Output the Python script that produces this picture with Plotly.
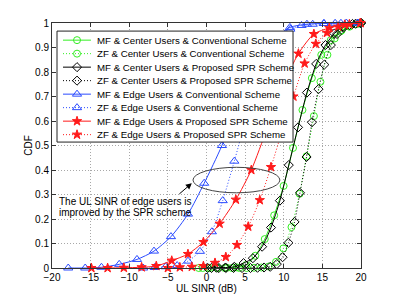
import plotly.graph_objects as go

# ---------------- data ----------------
series_names = [
    "MF & Center Users & Conventional Scheme",
    "ZF & Center Users & Conventional Scheme",
    "MF & Center Users & Proposed SPR Scheme",
    "ZF & Center Users & Proposed SPR Scheme",
    "MF & Edge Users & Conventional Scheme",
    "ZF & Edge Users & Conventional Scheme",
    "MF & Edge Users & Proposed SPR Scheme",
    "ZF & Edge Users & Proposed SPR Scheme",
]

mf_center_conv_x = [-1.0, 0.22, 1.44, 2.66, 3.88, 5.1, 6.32, 7.54, 8.76, 9.98, 11.2, 12.42, 13.64, 14.86, 16.08, 17.3, 18.52, 19.74]
mf_center_conv_y = [0.0, 0.0, 0.0, 0.001, 0.003, 0.012, 0.05, 0.118, 0.215, 0.335, 0.49, 0.645, 0.775, 0.87, 0.93, 0.965, 0.985, 0.997]

zf_center_conv_x = [-0.5, 0.45, 1.4, 2.35, 3.3, 4.25, 5.2, 6.15, 7.1, 8.05, 9.0, 9.95, 11.0, 12.05, 12.95, 13.9, 14.75, 15.65, 16.6, 17.5, 18.4, 19.3, 20.0]
zf_center_conv_y = [0.0, 0.0, 0.0, 0.0, 0.0, 0.0, 0.0, 0.001, 0.002, 0.006, 0.025, 0.08, 0.167, 0.303, 0.456, 0.62, 0.76, 0.87, 0.937, 0.97, 0.987, 0.995, 1.0]

mf_center_spr_x = [0.15, 1.3, 2.45, 3.6, 4.8, 6.0, 7.2, 8.35, 9.5, 10.65, 11.85, 13.0, 14.2, 15.4, 16.55, 17.7, 18.9, 20.0]
mf_center_spr_y = [0.0, 0.001, 0.002, 0.005, 0.02, 0.04, 0.087, 0.165, 0.275, 0.42, 0.574, 0.716, 0.833, 0.91, 0.957, 0.985, 0.996, 1.0]

zf_center_spr_x = [0.65, 1.6, 2.5, 3.5, 4.6, 5.7, 6.6, 7.45, 8.25, 9.1, 9.85, 10.6, 11.4, 12.1, 12.95, 13.65, 14.5, 15.25, 16.1, 16.9, 17.7, 18.5, 19.3, 20.0]
zf_center_spr_y = [0.0, 0.0, 0.0, 0.0, 0.0, 0.0, 0.001, 0.002, 0.005, 0.016, 0.044, 0.103, 0.188, 0.307, 0.453, 0.595, 0.73, 0.83, 0.91, 0.955, 0.98, 0.992, 0.997, 1.0]

mf_edge_conv_x = [-17.9, -15.7, -13.6, -11.3, -9.0, -6.8, -4.6, -2.4, -0.3, 2.0, 4.2, 6.4, 8.6, 10.8, 13.0, 15.2, 17.4, 19.6]
mf_edge_conv_y = [0.0, 0.0, 0.003, 0.015, 0.035, 0.069, 0.128, 0.22, 0.346, 0.5, 0.68, 0.83, 0.93, 0.982, 0.995, 0.998, 0.999, 1.0]

zf_edge_conv_x = [-8.2, -6.7, -5.3, -3.8, -2.4, -0.85, 0.7, 2.1, 3.6, 5.05, 6.5, 7.95, 9.4, 10.85, 12.3, 13.75, 15.2, 16.65, 18.1, 19.55]
zf_edge_conv_y = [0.0, 0.002, 0.005, 0.01, 0.028, 0.068, 0.148, 0.275, 0.436, 0.6, 0.74, 0.86, 0.935, 0.975, 0.99, 0.995, 0.998, 0.999, 1.0, 1.0]

mf_edge_spr_x = [-14.9, -12.8, -10.7, -8.4, -6.5, -4.5, -2.4, -0.4, 1.7, 3.8, 5.8, 7.85, 9.85, 11.9, 13.9, 15.9, 17.9, 19.9]
mf_edge_spr_y = [0.0, 0.0, 0.001, 0.003, 0.008, 0.03, 0.057, 0.106, 0.181, 0.279, 0.4, 0.57, 0.74, 0.875, 0.955, 0.98, 0.993, 1.0]

zf_edge_spr_x = [-5.0, -3.45, -1.9, -0.4, 1.1, 2.5, 3.95, 5.4, 6.9, 8.35, 9.8, 11.25, 12.7, 14.15, 15.6, 17.05, 18.5, 19.95]
zf_edge_spr_y = [0.0, 0.003, 0.005, 0.008, 0.021, 0.045, 0.094, 0.169, 0.277, 0.412, 0.56, 0.70, 0.835, 0.915, 0.96, 0.985, 0.995, 1.0]

x_range = [-20, 20]
y_range = [0, 1]
annotation_lines = ["The UL SINR of edge users is", "improved by the SPR scheme"]

# ---------------- styles ----------------
GREEN = "#33ee22"
BLACK = "#000000"
BLUE = "#2a4bff"
RED = "#ff1a1a"
FONT = "Liberation Sans, Arial, Helvetica, sans-serif"
DOT = "1px,2px"

series = [
    (mf_center_conv_x, mf_center_conv_y, GREEN, "solid", "circle-open", 7),
    (zf_center_conv_x, zf_center_conv_y, GREEN, DOT, "circle-open", 7),
    (mf_center_spr_x, mf_center_spr_y, BLACK, "solid", "diamond-open", 7),
    (zf_center_spr_x, zf_center_spr_y, BLACK, DOT, "diamond-open", 7),
    (mf_edge_conv_x, mf_edge_conv_y, BLUE, "solid", "triangle-up-open", 8),
    (zf_edge_conv_x, zf_edge_conv_y, BLUE, DOT, "triangle-up-open", 8),
    (mf_edge_spr_x, mf_edge_spr_y, RED, "solid", "star", 7),
    (zf_edge_spr_x, zf_edge_spr_y, RED, DOT, "star", 7),
]

fig = go.Figure()
for (xs, ys, col, dash, sym, sz), name in zip(series, series_names):
    fig.add_trace(go.Scatter(
        x=xs, y=ys, name=name, mode="lines+markers",
        line=dict(color=col, width=1, dash=dash, shape="spline", smoothing=0.7),
        marker=dict(symbol=sym, size=sz, color=col, line=dict(color=col, width=1)),
        cliponaxis=False, showlegend=False,
    ))

# ---------------- hand-built legend (plot-area fractional coordinates) ----------------
lg_x0, lg_x1, lg_y0, lg_y1 = 0.0162, 0.780, 0.514, 0.967
fig.add_trace(go.Scatter(
    x=[lg_x0, lg_x1, lg_x1, lg_x0, lg_x0], y=[lg_y0, lg_y0, lg_y1, lg_y1, lg_y0],
    mode="lines", fill="toself", fillcolor="white",
    line=dict(color="#222", width=1), xaxis="x2", yaxis="y2",
    showlegend=False, hoverinfo="skip",
))
row_top = 0.930
row_step = 13.5 / 245
for i, ((xs, ys, col, dash, sym, sz), name) in enumerate(zip(series, series_names)):
    yy = row_top - i * row_step
    fig.add_trace(go.Scatter(
        x=[0.0356, 0.126], y=[yy, yy], mode="lines",
        line=dict(color=col, width=1, dash=dash),
        xaxis="x2", yaxis="y2", showlegend=False, hoverinfo="skip",
    ))
    fig.add_trace(go.Scatter(
        x=[0.081], y=[yy], mode="markers",
        marker=dict(symbol=sym, size=sz, color=col, line=dict(color=col, width=1)),
        xaxis="x2", yaxis="y2", showlegend=False, hoverinfo="skip",
    ))
    fig.add_annotation(
        x=0.139, y=yy, xref="paper", yref="paper", text=name, showarrow=False,
        xanchor="left", yanchor="middle", font=dict(size=9.7, color="black", family=FONT),
    )

# ---------------- annotation: ellipse, arrow and text ----------------
fig.add_shape(type="circle", xref="x", yref="y", x0=-1.75, x1=9.5, y0=0.307, y1=0.411,
              line=dict(color="#444", width=1), layer="above")
fig.add_annotation(
    x=-1.9, y=0.346, xref="x", yref="y", ax=-14, ay=12, text="", showarrow=True,
    arrowhead=2, arrowsize=1.2, arrowwidth=1, arrowcolor="black",
)
for k, line_txt in enumerate(annotation_lines):
    fig.add_annotation(
        x=0.0162, y=0.27 - k * 11 / 245, xref="paper", yref="paper", text=line_txt,
        showarrow=False, xanchor="left", yanchor="middle",
        font=dict(size=10, color="black", family=FONT),
    )

axis_common = dict(
    showline=True, linecolor="#333", linewidth=1, mirror="ticks",
    ticks="inside", ticklen=4, tickcolor="#333",
    showgrid=True, gridcolor="#a8a8a8", griddash=DOT, gridwidth=1,
    zeroline=False, tickfont=dict(size=10, color="black", family=FONT),
    automargin=False,
)
fig.update_layout(
    width=399, height=302,
    margin=dict(l=52, r=38, t=23, b=34),
    paper_bgcolor="white", plot_bgcolor="white",
    font=dict(family=FONT, color="black", size=10),
    xaxis=dict(range=x_range, dtick=5, tick0=-20,
               title=dict(text="UL SINR (dB)", standoff=0, font=dict(size=10)),
               **axis_common),
    yaxis=dict(range=y_range, dtick=0.1, tick0=0,
               title=dict(text="CDF", standoff=0, font=dict(size=10)),
               **axis_common),
    xaxis2=dict(overlaying="x", range=[0, 1], visible=False, fixedrange=True),
    yaxis2=dict(overlaying="y", range=[0, 1], visible=False, fixedrange=True),
    showlegend=False,
)

fig.write_html(
    "out.html",
    config={"displayModeBar": False},
    post_script="document.body.style.margin='0px';document.body.style.overflow='hidden';",
)
